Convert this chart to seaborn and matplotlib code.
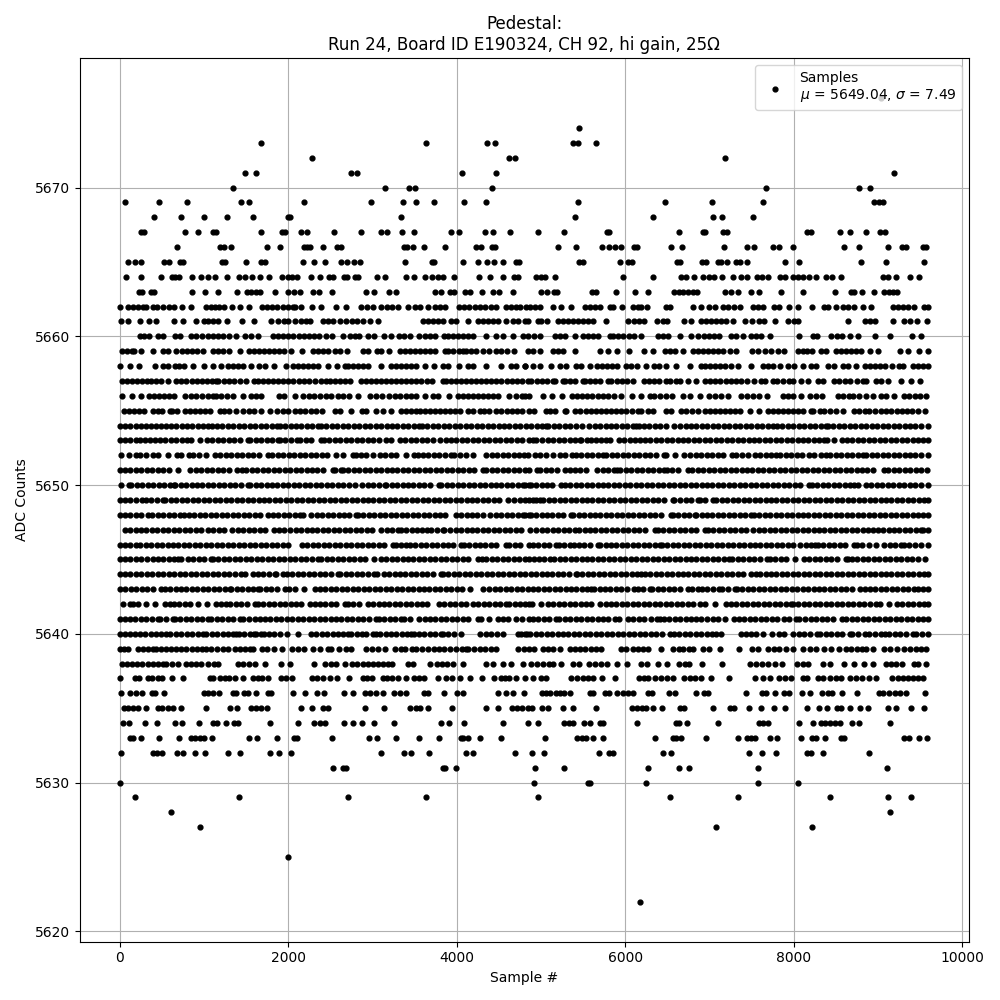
import pandas as pd
import matplotlib
matplotlib.use('Agg')
import matplotlib.pyplot as plt
import seaborn as sns

# sample numbers, one list per ADC level
s5622 = [6173]
s5625 = [1994]
s5627 = [949, 7075, 8214]
s5628 = [605, 9140]
s5629 = [178, 1412, 2706, 3632, 4963, 6529, 7336, 8428, 9116, 9389]
s5630 = [0, 4915, 5556, 5580, 6244, 7574, 8048]
s5631 = [2528, 2647, 2682, 3841, 3865, 3988, 4927, 5271, 6268, 6636, 6755, 7574, 9105]
s5632 = [12, 392, 439, 498, 676, 748, 890, 1009, 1278, 1424, 1780, 1887, 2029, 3098, 3371, 3454, 3667, 4106, 4190, 4688,
         4891, 5034, 5687, 5805, 5853, 6446, 6541, 7467, 7621, 7787, 8155, 8203, 8345, 8891]
s5633 = [119, 154, 249, 463, 700, 843, 890, 949, 997, 1092, 1531, 1626, 1863, 2065, 2101, 2516, 2955, 3050, 3276, 3545, 3786,
         4047, 4071, 4130, 4272, 4522, 5046, 5425, 5485, 5532, 5615, 5734, 6351, 6565, 6600, 6660, 6956, 7336, 7443, 7490, 7538,
         7716, 7799, 8084, 8214, 8262, 8369, 8559, 8594, 9306, 9366, 9484, 9579]
s5634 = [36, 107, 297, 435, 653, 736, 938, 1104, 1151, 1258, 1353, 1400, 1780, 2113, 2302, 2374, 2433, 2658, 2765, 2872, 3014,
         3252, 3810, 3905, 4083, 4545, 4844, 4963, 5271, 5330, 5378, 5508, 5580, 5698, 5734, 6138, 6600, 6636, 6731, 7099,
         7585, 7633, 7692, 8060, 8226, 8321, 8369, 8428, 8487, 8547, 8689, 8772, 9140]
s5635 = [47, 95, 154, 214, 309, 451, 498, 570, 629, 724, 1021, 1305, 1389, 1555, 1614, 1673, 1745, 2148, 2279, 2409, 2469, 2908,
         3133, 3442, 3513, 3561, 3655, 3940, 4344, 4486, 4652, 4712, 4771, 4844, 4891, 5010, 5081, 5259, 5378, 5651, 6078, 6138,
         6197, 6244, 6327, 6434, 6648, 6695, 7040, 7241, 7289, 7467, 7609, 7763, 7894, 8155, 8298, 8392, 8511, 8559, 8665, 8784,
         8879, 9116, 9211, 9389, 9544]
s5636 = [12, 119, 190, 261, 380, 415, 522, 997, 1044, 1104, 1175, 1341, 1377, 1472, 1519, 1614, 1756, 1792, 2053, 2196, 2338, 2421,
         2658, 2765, 2908, 2967, 3038, 3121, 3252, 3323, 3394, 3608, 3655, 3845, 4000, 4071, 4486, 4581, 4664, 4796, 5010, 5058,
         5105, 5176, 5224, 5271, 5342, 5580, 5615, 5758, 5805, 5900, 5971, 6031, 6090, 6268, 6316, 6517, 6588, 6838, 6933, 6980,
         7431, 7621, 7668, 7775, 7882, 7941, 8096, 8191, 8333, 8404, 8452, 8570, 8756, 9010, 9057, 9128, 9199, 9259, 9330, 9556]
s5637 = [0, 178, 225, 332, 380, 451, 498, 617, 744, 1068, 1104, 1187, 1246, 1294, 1365, 1460, 1578, 1638, 1685, 1756, 1911, 1970,
         2041, 2279, 2338, 2409, 2492, 2575, 2718, 2884, 2931, 2991, 3121, 3169, 3228, 3299, 3394, 3489, 3549, 3608, 3774, 3869,
         3940, 4035, 4154, 4296, 4439, 4522, 4569, 4617, 4700, 4808, 4903, 4998, 5058, 5354, 5425, 5497, 5556, 5615, 5722, 5876,
         6161, 6221, 6268, 6351, 6422, 6493, 6565, 6695, 6767, 6826, 6897, 7016, 7229, 7538, 7633, 7716, 7823, 7894, 7965, 8108,
         8155, 8286, 8345, 8428, 8499, 8559, 8665, 8736, 8808, 8891, 8974, 9164, 9235, 9294, 9354, 9413, 9473, 9532]
s5638 = [24, 85, 145, 205, 265, 330, 390, 450, 510, 550, 620, 690, 780, 840, 900, 960, 1045, 1115, 1163, 1400, 1460, 1530, 1600, 1717,
         1907, 2014, 2302, 2437, 2500, 2560, 2666, 2757, 2820, 2880, 2940, 3000, 3060, 3120, 3180, 3232, 3418, 3485, 3683, 3760, 3820,
         3880, 3950, 4071, 4348, 4427, 4545, 4644, 4783, 4879, 4951, 5022, 5093, 5141, 5235, 5378, 5449, 5568, 5639, 5710, 5781, 5900,
         6019, 6185, 6256, 6387, 6493, 6636, 6707, 6755, 6909, 7146, 7479, 7550, 7621, 7692, 7775, 7858, 8036, 8108, 8167, 8345, 8428,
         8594, 8713, 8832, 8938, 9093, 9152, 9211, 9282, 9425, 9473, 9567]
s5639 = [0, 50, 100, 214, 270, 332, 390, 430, 490, 550, 610, 670, 730, 787, 850, 910, 970, 1025, 1085, 1150, 1220, 1278, 1360, 1420, 1480,
         1540, 1578, 1685, 1750, 1830, 1925, 2041, 2112, 2180, 2290, 2370, 2470, 2508, 2600, 2686, 2745, 2923, 2990, 3060, 3141, 3260, 3340,
         3386, 3465, 3520, 3590, 3660, 3730, 3790, 3853, 3920, 3990, 4060, 4110, 4130, 4200, 4270, 4340, 4400, 4466, 4723, 4800, 4862, 4920,
         5022, 5081, 5141, 5220, 5338, 5400, 5460, 5520, 5590, 5650, 5710, 5948, 6010, 6090, 6150, 6210, 6270, 6422, 6565, 6640, 6683, 6760,
         6800, 6921, 6990, 7122, 7348, 7500, 7570, 7692, 7770, 7823, 7910, 7989, 8108, 8190, 8262, 8365, 8440, 8543, 8622, 8680, 8745, 8810,
         8860, 8938, 9077, 9140, 9230, 9314, 9380, 9450, 9510, 9570]
s5640 = [0, 60, 115, 174, 235, 300, 365, 430, 490, 550, 589, 669, 730, 795, 860, 925, 985, 1025, 1090, 1155, 1220, 1285, 1345, 1381, 1412,
         1475, 1540, 1586, 1618, 1670, 1705, 1768, 1830, 1895, 1982, 2112, 2263, 2330, 2395, 2460, 2525, 2590, 2650, 2706, 2745, 2810, 2875,
         2916, 3003, 3045, 3082, 3153, 3215, 3280, 3345, 3410, 3460, 3497, 3549, 3615, 3680, 3745, 3813, 3833, 3900, 3965, 4051, 4280, 4345,
         4410, 4475, 4545, 4723, 4763, 4830, 4804, 4870, 4935, 5000, 5065, 5130, 5195, 5260, 5325, 5390, 5455, 5520, 5585, 5650, 5715, 5780,
         5845, 5910, 5975, 6040, 6105, 6170, 6235, 6300, 6365, 6430, 6525, 6573, 6640, 6705, 6770, 6835, 6900, 6965, 7030, 7071, 7134, 7376,
         7435, 7494, 7546, 7633, 7740, 7823, 7890, 7989, 8060, 8125, 8190, 8278, 8313, 8380, 8445, 8510, 8575, 8662, 8693, 8760, 8851, 8899,
         8965, 9030, 9089, 9136, 9200, 9265, 9330, 9413, 9453, 9520, 9590]
s5641 = [0, 55, 115, 180, 245, 310, 375, 451, 479, 545, 629, 649, 715, 780, 845, 910, 975, 1044, 1084, 1150, 1215, 1280, 1345, 1420, 1460,
         1530, 1598, 1657, 1720, 1785, 1850, 1915, 1980, 2045, 2110, 2175, 2240, 2305, 2370, 2435, 2500, 2565, 2630, 2695, 2760, 2825, 2890,
         2955, 3042, 3074, 3140, 3205, 3270, 3335, 3378, 3438, 3556, 3616, 3680, 3745, 3810, 3875, 3940, 4005, 4070, 4135, 4249, 4288, 4387,
         4486, 4545, 4605, 4704, 4770, 4862, 4900, 4965, 5030, 5095, 5180, 5212, 5280, 5345, 5410, 5475, 5540, 5605, 5670, 5735, 5800, 5872,
         5924, 6031, 6095, 6160, 6225, 6308, 6375, 6406, 6454, 6520, 6585, 6650, 6715, 6782, 6842, 6901, 6970, 7040, 7105, 7178, 7285, 7350,
         7415, 7480, 7545, 7610, 7675, 7740, 7805, 7890, 7941, 8029, 8068, 8135, 8200, 8265, 8330, 8395, 8460, 8574, 8622, 8690, 8755, 8820,
         8885, 8950, 9015, 9080, 9145, 9210, 9275, 9340, 9405, 9470, 9535, 9590]
s5642 = [36, 115, 154, 215, 313, 415, 530, 589, 641, 705, 770, 835, 926, 1033, 1143, 1205, 1262, 1309, 1375, 1440, 1505, 1598, 1638, 1700,
         1765, 1830, 1895, 1960, 2025, 2090, 2155, 2251, 2310, 2375, 2440, 2505, 2570, 2666, 2706, 2770, 2844, 2943, 3005, 3070, 3135, 3200,
         3265, 3330, 3395, 3460, 3525, 3590, 3647, 3786, 3850, 3915, 3980, 4045, 4110, 4190, 4255, 4320, 4385, 4450, 4515, 4585, 4624, 4690,
         4755, 4804, 4862, 4891, 5002, 5081, 5145, 5210, 5275, 5340, 5405, 5470, 5535, 5596, 5702, 5765, 5830, 5895, 5960, 6025, 6090, 6155,
         6220, 6285, 6350, 6415, 6480, 6545, 6610, 6675, 6740, 6805, 6881, 6941, 7059, 7190, 7255, 7320, 7385, 7450, 7515, 7580, 7645, 7710,
         7775, 7840, 7905, 7969, 7989, 8055, 8120, 8185, 8250, 8315, 8380, 8445, 8510, 8575, 8640, 8705, 8770, 8835, 8900, 8978, 9025, 9136,
         9223, 9290, 9355, 9420, 9485, 9550, 9590]
s5643 = [4, 65, 130, 195, 260, 325, 390, 490, 530, 595, 660, 725, 790, 855, 920, 985, 1050, 1115, 1180, 1245, 1302, 1321, 1385, 1450, 1515,
         1580, 1638, 1665, 1730, 1795, 1860, 1954, 2005, 2081, 2191, 2310, 2375, 2440, 2505, 2570, 2635, 2700, 2765, 2830, 2895, 2960, 3025,
         3090, 3155, 3220, 3285, 3350, 3415, 3480, 3545, 3610, 3675, 3740, 3805, 3870, 3935, 4000, 4065, 4158, 4308, 4380, 4447, 4514, 4580,
         4645, 4710, 4775, 4840, 4900, 4965, 5030, 5095, 5160, 5225, 5290, 5355, 5420, 5485, 5550, 5596, 5623, 5694, 5754, 5820, 5885, 5950,
         6015, 6098, 6149, 6215, 6288, 6319, 6385, 6450, 6515, 6580, 6645, 6743, 6794, 6861, 6913, 6968, 7040, 7111, 7150, 7215, 7297, 7324,
         7390, 7455, 7520, 7585, 7650, 7715, 7780, 7845, 7910, 7975, 8040, 8105, 8170, 8235, 8300, 8365, 8430, 8495, 8560, 8625, 8690, 8788,
         8840, 8905, 8970, 9035, 9100, 9165, 9230, 9295, 9360, 9433, 9473, 9535, 9590]
s5644 = [0, 62, 125, 190, 255, 320, 385, 450, 515, 580, 645, 710, 775, 840, 905, 970, 1035, 1100, 1165, 1230, 1295, 1360, 1440, 1480, 1578,
         1638, 1700, 1765, 1836, 1855, 1934, 1982, 2045, 2110, 2175, 2240, 2305, 2370, 2435, 2500, 2587, 2615, 2680, 2745, 2810, 2875, 2940,
         3022, 3054, 3133, 3195, 3260, 3325, 3390, 3455, 3520, 3585, 3650, 3715, 3813, 3833, 3900, 3965, 4030, 4095, 4160, 4225, 4290, 4355,
         4420, 4485, 4550, 4615, 4680, 4745, 4810, 4875, 4940, 5005, 5070, 5135, 5200, 5265, 5330, 5410, 5425, 5490, 5555, 5620, 5685, 5750,
         5815, 5880, 5945, 6010, 6075, 6140, 6189, 6228, 6295, 6360, 6425, 6490, 6555, 6620, 6685, 6750, 6815, 6880, 6945, 7010, 7075, 7140,
         7205, 7270, 7335, 7400, 7494, 7554, 7601, 7665, 7730, 7795, 7860, 7925, 7990, 8055, 8120, 8185, 8250, 8315, 8380, 8445, 8510, 8575,
         8640, 8705, 8770, 8835, 8900, 8965, 9030, 9095, 9160, 9225, 9290, 9355, 9420, 9485, 9550, 9590]
s5645 = [0, 62, 125, 190, 255, 320, 392, 451, 515, 580, 645, 688, 728, 807, 870, 935, 1000, 1084, 1104, 1170, 1235, 1300, 1365, 1430, 1495,
         1560, 1625, 1690, 1755, 1820, 1885, 1950, 2015, 2080, 2145, 2210, 2275, 2350, 2390, 2455, 2520, 2585, 2650, 2715, 2780, 2845, 2910,
         3022, 3094, 3160, 3225, 3290, 3355, 3420, 3485, 3550, 3615, 3680, 3745, 3810, 3875, 3940, 4005, 4070, 4135, 4249, 4296, 4348, 4415,
         4480, 4545, 4610, 4675, 4740, 4805, 4862, 4915, 4980, 5040, 5101, 5152, 5220, 5285, 5350, 5415, 5480, 5545, 5610, 5675, 5740, 5805,
         5870, 5935, 6000, 6065, 6130, 6195, 6260, 6325, 6390, 6455, 6520, 6585, 6650, 6715, 6780, 6845, 6910, 6975, 7040, 7105, 7170, 7237,
         7269, 7335, 7400, 7465, 7530, 7595, 7680, 7712, 7780, 7845, 7910, 8009, 8120, 8185, 8250, 8315, 8380, 8445, 8510, 8622, 8642, 8689,
         8755, 8820, 8885, 8950, 9015, 9080, 9145, 9210, 9275, 9340, 9405, 9470, 9563]
s5646 = [0, 62, 125, 194, 241, 305, 370, 435, 500, 565, 630, 695, 760, 825, 890, 955, 1020, 1085, 1150, 1215, 1280, 1345, 1410, 1475, 1540,
         1605, 1670, 1735, 1800, 1865, 1930, 1994, 2160, 2225, 2290, 2355, 2420, 2485, 2550, 2615, 2680, 2745, 2810, 2875, 2940, 3005, 3070,
         3135, 3240, 3272, 3335, 3398, 3438, 3505, 3570, 3635, 3700, 3765, 3830, 3895, 3960, 4051, 4079, 4145, 4210, 4275, 4340, 4405, 4470,
         4585, 4624, 4690, 4755, 4862, 4900, 4965, 5030, 5095, 5180, 5212, 5275, 5338, 5386, 5450, 5515, 5580, 5675, 5702, 5765, 5830, 5895,
         5960, 6025, 6090, 6155, 6220, 6285, 6350, 6406, 6434, 6500, 6565, 6630, 6695, 6760, 6825, 6890, 6955, 7020, 7085, 7150, 7215, 7280,
         7345, 7410, 7475, 7540, 7605, 7670, 7735, 7800, 7865, 7930, 7989, 8076, 8140, 8200, 8258, 8286, 8350, 8415, 8480, 8545, 8610, 8721,
         8748, 8815, 8891, 8978, 9077, 9140, 9205, 9270, 9314, 9366, 9435, 9512, 9590]
s5647 = [55, 120, 185, 250, 315, 380, 445, 510, 575, 640, 705, 770, 835, 900, 965, 1044, 1110, 1175, 1230, 1333, 1400, 1465, 1530, 1595, 1660,
         1725, 1824, 1887, 1950, 2021, 2085, 2150, 2215, 2280, 2345, 2410, 2475, 2540, 2605, 2670, 2735, 2800, 2865, 2930, 2995, 3102, 3169,
         3235, 3300, 3339, 3398, 3465, 3530, 3588, 3643, 3695, 3760, 3833, 3853, 3920, 3985, 4050, 4115, 4180, 4245, 4310, 4375, 4440, 4505,
         4570, 4635, 4700, 4765, 4872, 4943, 5010, 5075, 5140, 5205, 5270, 5335, 5398, 5449, 5516, 5580, 5645, 5710, 5775, 5840, 5905, 5970,
         6035, 6100, 6165, 6230, 6347, 6387, 6450, 6515, 6580, 6645, 6710, 6775, 6840, 6941, 6980, 7045, 7110, 7175, 7240, 7305, 7370, 7435,
         7514, 7585, 7650, 7715, 7780, 7845, 7910, 7975, 8040, 8105, 8170, 8235, 8300, 8365, 8430, 8495, 8560, 8625, 8690, 8755, 8820, 8885,
         8946, 8998, 9060, 9125, 9190, 9255, 9320, 9385, 9450, 9512, 9540, 9590]
s5648 = [0, 62, 125, 190, 255, 332, 384, 450, 515, 580, 645, 708, 756, 820, 885, 950, 1015, 1080, 1145, 1210, 1275, 1340, 1405, 1470, 1535,
         1600, 1665, 1756, 1816, 1880, 1945, 2010, 2075, 2132, 2172, 2271, 2335, 2400, 2465, 2530, 2595, 2660, 2725, 2805, 2825, 2890, 2955,
         3020, 3085, 3150, 3215, 3280, 3345, 3410, 3475, 3540, 3605, 3670, 3735, 3800, 3865, 3984, 4051, 4115, 4180, 4245, 4316, 4395, 4466,
         4530, 4595, 4660, 4725, 4790, 4862, 4810, 4875, 4940, 5005, 5070, 5135, 5200, 5265, 5358, 5378, 5445, 5510, 5575, 5640, 5705, 5770,
         5835, 5900, 5965, 6030, 6095, 6160, 6225, 6290, 6355, 6420, 6545, 6565, 6630, 6695, 6760, 6822, 6842, 6905, 6970, 7035, 7100, 7165,
         7230, 7295, 7360, 7425, 7494, 7526, 7590, 7655, 7720, 7785, 7850, 7915, 7980, 8045, 8110, 8175, 8240, 8305, 8370, 8435, 8500, 8565,
         8630, 8695, 8760, 8825, 8890, 8955, 9020, 9085, 9150, 9215, 9280, 9345, 9410, 9475, 9540, 9590]
s5649 = [0, 62, 125, 190, 265, 305, 370, 435, 510, 540, 605, 670, 735, 800, 865, 930, 995, 1060, 1125, 1190, 1255, 1320, 1385, 1450, 1515,
         1580, 1645, 1710, 1775, 1840, 1905, 1970, 2035, 2100, 2165, 2230, 2295, 2360, 2425, 2490, 2555, 2620, 2685, 2750, 2815, 2880, 2945,
         3010, 3075, 3140, 3205, 3270, 3335, 3400, 3465, 3530, 3595, 3660, 3725, 3790, 3855, 3920, 3985, 4050, 4115, 4180, 4245, 4310, 4375,
         4440, 4505, 4605, 4684, 4750, 4815, 4862, 4900, 4943, 4990, 5022, 5090, 5155, 5220, 5285, 5350, 5415, 5480, 5545, 5610, 5675, 5740,
         5805, 5870, 5935, 6000, 6065, 6130, 6195, 6260, 6325, 6390, 6455, 6565, 6584, 6650, 6715, 6780, 6861, 6881, 6945, 7040, 7079, 7145,
         7210, 7275, 7340, 7405, 7470, 7535, 7600, 7665, 7730, 7795, 7860, 7925, 7990, 8055, 8120, 8185, 8250, 8315, 8380, 8445, 8510, 8575,
         8640, 8705, 8770, 8835, 8900, 8965, 9030, 9095, 9160, 9225, 9290, 9355, 9420, 9485, 9550, 9590]
s5650 = [16, 107, 134, 200, 265, 330, 395, 460, 525, 590, 637, 653, 720, 785, 850, 915, 980, 1045, 1110, 1175, 1240, 1305, 1370, 1435, 1519,
         1547, 1610, 1675, 1740, 1805, 1870, 1935, 2000, 2065, 2130, 2195, 2260, 2325, 2390, 2455, 2520, 2585, 2650, 2718, 2785, 2876, 2940,
         3005, 3070, 3141, 3161, 3225, 3290, 3355, 3420, 3485, 3550, 3615, 3680, 3786, 3813, 3880, 3945, 4010, 4075, 4140, 4205, 4270, 4335,
         4400, 4465, 4530, 4595, 4660, 4725, 4790, 4862, 4810, 4875, 4940, 5005, 5070, 5135, 5240, 5279, 5345, 5410, 5475, 5540, 5605, 5670,
         5735, 5800, 5865, 5930, 5995, 6060, 6125, 6190, 6255, 6320, 6385, 6450, 6515, 6580, 6645, 6710, 6775, 6840, 6905, 6970, 7035, 7100,
         7165, 7230, 7295, 7360, 7425, 7490, 7555, 7620, 7685, 7750, 7815, 7880, 7945, 8010, 8075, 8179, 8218, 8278, 8345, 8410, 8475, 8540,
         8605, 8670, 8721, 8760, 8859, 8918, 8985, 9050, 9115, 9180, 9245, 9310, 9375, 9440, 9505, 9590]
s5651 = [0, 62, 125, 190, 255, 320, 385, 450, 515, 580, 688, 835, 898, 965, 1030, 1095, 1160, 1225, 1290, 1389, 1444, 1499, 1565, 1630,
         1695, 1760, 1825, 1890, 1955, 2020, 2085, 2150, 2215, 2280, 2345, 2410, 2528, 2548, 2627, 2646, 2710, 2775, 2840, 2905, 2970, 3035,
         3100, 3165, 3230, 3295, 3360, 3425, 3490, 3555, 3620, 3685, 3750, 3815, 3880, 3945, 4010, 4075, 4140, 4205, 4308, 4348, 4415, 4480,
         4545, 4610, 4675, 4740, 4805, 4862, 4951, 4990, 5055, 5120, 5185, 5279, 5338, 5400, 5465, 5536, 5663, 5730, 5795, 5860, 5904, 5940,
         6005, 6070, 6135, 6200, 6265, 6330, 6395, 6458, 6497, 6560, 6625, 6743, 6794, 6860, 6925, 6990, 7055, 7120, 7185, 7250, 7315, 7380,
         7445, 7510, 7575, 7640, 7705, 7770, 7835, 7900, 7965, 8030, 8095, 8160, 8225, 8290, 8355, 8420, 8485, 8550, 8615, 8680, 8745, 8810,
         8875, 8940, 9077, 9124, 9190, 9255, 9320, 9385, 9450, 9515, 9578]
s5652 = [16, 107, 194, 241, 310, 392, 451, 570, 676, 728, 819, 866, 935, 1025, 1124, 1190, 1255, 1320, 1385, 1450, 1515, 1580, 1645, 1756,
         1808, 1875, 1940, 2005, 2070, 2135, 2200, 2265, 2330, 2395, 2460, 2560, 2654, 2765, 2805, 2864, 2916, 3003, 3082, 3150, 3215, 3280,
         3398, 3497, 3537, 3596, 3660, 3725, 3790, 3860, 3932, 3972, 4040, 4105, 4190, 4348, 4415, 4480, 4545, 4610, 4675, 4740, 4842, 4800,
         4923, 4990, 5061, 5141, 5220, 5279, 5370, 5410, 5475, 5540, 5605, 5670, 5734, 5773, 5840, 5905, 5970, 6035, 6100, 6165, 6230, 6295,
         6360, 6454, 6486, 6585, 6695, 6770, 6835, 6900, 6965, 7030, 7095, 7160, 7269, 7316, 7385, 7455, 7534, 7600, 7665, 7730, 7791, 7839,
         7905, 7970, 8035, 8100, 8179, 8246, 8320, 8385, 8432, 8500, 8565, 8630, 8695, 8760, 8820, 8859, 8925, 8990, 9055, 9120, 9185, 9250,
         9315, 9380, 9445, 9510, 9590]
s5653 = [0, 62, 125, 190, 233, 293, 360, 411, 475, 540, 605, 670, 735, 800, 846, 953, 1032, 1095, 1160, 1225, 1290, 1355, 1420, 1519, 1547,
         1610, 1675, 1740, 1805, 1875, 1895, 1960, 2025, 2100, 2140, 2205, 2270, 2389, 2421, 2485, 2550, 2615, 2680, 2745, 2810, 2875, 2940,
         3005, 3070, 3160, 3220, 3327, 3390, 3455, 3520, 3585, 3650, 3715, 3802, 3873, 3932, 3995, 4060, 4125, 4190, 4255, 4320, 4385, 4450,
         4515, 4580, 4645, 4710, 4775, 4862, 4903, 4943, 5014, 5080, 5145, 5210, 5275, 5340, 5405, 5457, 5477, 5540, 5596, 5647, 5710, 5775,
         5821, 5920, 5985, 6050, 6115, 6180, 6228, 6296, 6360, 6425, 6490, 6555, 6620, 6685, 6750, 6815, 6880, 6945, 7010, 7075, 7140, 7205,
         7270, 7335, 7400, 7465, 7530, 7593, 7664, 7720, 7785, 7850, 7915, 7980, 8045, 8110, 8175, 8240, 8305, 8365, 8392, 8483, 8567, 8630,
         8695, 8760, 8825, 8890, 8955, 9020, 9085, 9150, 9215, 9280, 9345, 9410, 9475, 9540, 9590]
s5654 = [0, 55, 120, 185, 250, 310, 370, 430, 490, 550, 610, 670, 735, 800, 860, 925, 990, 1050, 1090, 1150, 1215, 1280, 1345, 1410, 1475,
         1540, 1605, 1670, 1735, 1800, 1860, 1900, 1965, 2030, 2095, 2150, 2215, 2280, 2350, 2390, 2450, 2515, 2580, 2645, 2710, 2775, 2840,
         2905, 2970, 3035, 3100, 3165, 3230, 3295, 3360, 3425, 3490, 3555, 3590, 3650, 3715, 3780, 3845, 3910, 3975, 4040, 4105, 4170, 4235,
         4300, 4365, 4430, 4495, 4560, 4625, 4690, 4755, 4820, 4885, 4950, 5015, 5055, 5085, 5150, 5215, 5280, 5345, 5410, 5490, 5570, 5635,
         5700, 5765, 5830, 5895, 5960, 6025, 6090, 6130, 6157, 6220, 6285, 6350, 6415, 6480, 6573, 6652, 6715, 6780, 6845, 6910, 6975, 7040,
         7105, 7170, 7235, 7300, 7365, 7430, 7495, 7560, 7625, 7690, 7752, 7799, 7865, 7930, 7995, 8060, 8125, 8190, 8255, 8320, 8377, 8404,
         8470, 8535, 8600, 8665, 8730, 8795, 8860, 8925, 8990, 9055, 9120, 9185, 9250, 9315, 9380, 9445, 9510, 9590]
s5655 = [51, 110, 170, 230, 290, 392, 451, 502, 589, 621, 680, 767, 827, 890, 950, 1010, 1075, 1183, 1230, 1290, 1381, 1460, 1530, 1590, 1680,
         1776, 1863, 1934, 2000, 2073, 2132, 2200, 2265, 2330, 2401, 2548, 2610, 2745, 2876, 2923, 3042, 3121, 3216, 3339, 3400, 3460, 3516,
         3562, 3620, 3680, 3740, 3800, 3860, 3920, 3980, 4040, 4130, 4190, 4272, 4320, 4387, 4466, 4530, 4590, 4650, 4710, 4770, 4862, 4920,
         5061, 5101, 5160, 5279, 5299, 5398, 5465, 5530, 5590, 5650, 5710, 5770, 5830, 5890, 5950, 6010, 6075, 6149, 6189, 6268, 6330, 6486,
         6545, 6664, 6723, 6790, 6860, 6941, 7000, 7060, 7120, 7180, 7240, 7300, 7360, 7475, 7585, 7692, 7750, 7810, 7870, 7930, 7990, 8050,
         8115, 8207, 8226, 8313, 8365, 8430, 8503, 8582, 8721, 8780, 8847, 8899, 8965, 9037, 9097, 9160, 9220, 9280, 9340, 9400, 9473, 9559]
s5656 = [24, 146, 245, 340, 400, 460, 520, 580, 640, 767, 839, 900, 970, 1044, 1104, 1143, 1203, 1270, 1340, 1460, 1559, 1620, 1677, 1883, 1950,
         2073, 2172, 2240, 2300, 2380, 2449, 2508, 2587, 2650, 2720, 2825, 2971, 3042, 3113, 3200, 3260, 3320, 3400, 3460, 3517, 3620, 3714, 3774,
         3901, 4008, 4071, 4130, 4190, 4250, 4310, 4370, 4430, 4490, 4625, 4704, 4770, 4862, 4810, 5022, 5125, 5247, 5370, 5430, 5490, 5550,
         5610, 5670, 5730, 5790, 5870, 5951, 6078, 6189, 6288, 6335, 6406, 6486, 6550, 6683, 6770, 6885, 6988, 7059, 7140, 7218, 7376, 7440,
         7514, 7593, 7680, 7870, 7930, 7989, 8088, 8195, 8266, 8333, 8523, 8590, 8650, 8701, 8780, 8860, 8938, 9037, 9100, 9196, 9314, 9373,
         9441, 9500, 9571]
s5657 = [24, 85, 145, 205, 265, 325, 372, 423, 490, 570, 669, 730, 790, 850, 910, 970, 1030, 1090, 1143, 1163, 1230, 1290, 1350, 1420, 1499, 1586,
         1638, 1700, 1760, 1820, 1880, 1940, 2000, 2060, 2120, 2180, 2250, 2320, 2385, 2449, 2488, 2550, 2610, 2670, 2730, 2864, 2923, 2980, 3040,
         3100, 3160, 3220, 3280, 3340, 3400, 3460, 3520, 3580, 3640, 3700, 3833, 3873, 3930, 3990, 4050, 4110, 4170, 4230, 4290, 4350, 4410,
         4470, 4530, 4590, 4650, 4710, 4770, 4842, 4884, 4950, 5010, 5070, 5141, 5160, 5260, 5280, 5340, 5400, 5497, 5516, 5580, 5640, 5700,
         5793, 5833, 5900, 5960, 6025, 6090, 6217, 6280, 6340, 6400, 6486, 6525, 6604, 6644, 6743, 6842, 6952, 7010, 7070, 7130, 7190, 7250,
         7310, 7370, 7440, 7525, 7613, 7653, 7752, 7799, 7870, 7949, 7989, 8090, 8167, 8286, 8345, 8483, 8543, 8610, 8670, 8745, 8820, 8860, 8978,
         9037, 9116, 9275, 9393, 9500]
s5658 = [0, 119, 225, 411, 510, 570, 649, 700, 760, 866, 993, 1100, 1203, 1282, 1340, 1400, 1460, 1559, 1650, 1717, 1824, 1966, 2053, 2110, 2170,
         2230, 2290, 2350, 2469, 2575, 2666, 2706, 2770, 2830, 2890, 2950, 3102, 3220, 3280, 3340, 3400, 3460, 3520, 3620, 3734, 3833, 3900,
         4031, 4130, 4190, 4348, 4526, 4644, 4704, 4811, 4804, 4903, 4990, 5121, 5220, 5299, 5418, 5477, 5576, 5663, 5720, 5780, 5840, 5900,
         6010, 6070, 6138, 6248, 6339, 6400, 6486, 6596, 6770, 6901, 6941, 7000, 7060, 7120, 7180, 7260, 7336, 7494, 7633, 7692, 7752, 7839,
         7930, 8000, 8108, 8207, 8270, 8404, 8483, 8582, 8640, 8740, 8840, 8900, 8960, 9020, 9080, 9170, 9255, 9294, 9413, 9473, 9530, 9595]
s5659 = [24, 85, 145, 170, 253, 392, 510, 570, 669, 740, 800, 860, 920, 985, 1104, 1163, 1222, 1300, 1420, 1527, 1590, 1650, 1710, 1770, 1830, 1890,
         1950, 2033, 2164, 2290, 2350, 2410, 2469, 2550, 2610, 2700, 2884, 2950, 3050, 3100, 3190, 3320, 3380, 3440, 3500, 3560, 3620, 3680,
         3740, 3857, 3897, 3960, 4030, 4071, 4110, 4170, 4230, 4308, 4380, 4466, 4530, 4600, 4680, 4842, 4900, 4982, 5141, 5200, 5260, 5398,
         5694, 5793, 5900, 6043, 6217, 6327, 6474, 6530, 6590, 6683, 6802, 6860, 6920, 6980, 7040, 7100, 7160, 7240, 7316, 7506, 7574, 7653,
         7732, 7810, 7890, 8048, 8108, 8155, 8215, 8325, 8385, 8503, 8560, 8620, 8680, 8740, 8800, 8900, 8998, 9267, 9354, 9484, 9595]
s5660 = [233, 280, 340, 451, 510, 649, 708, 847, 906, 977, 1040, 1100, 1160, 1220, 1290, 1381, 1487, 1550, 1638, 1816, 1880, 1940, 2000, 2060, 2120,
         2180, 2240, 2300, 2360, 2449, 2516, 2647, 2726, 2785, 2840, 2943, 3022, 3140, 3220, 3319, 3378, 3440, 3556, 3616, 3680, 3740, 3853, 3893,
         3950, 4010, 4070, 4130, 4190, 4347, 4466, 4545, 4664, 4785, 4850, 4910, 4982, 5160, 5220, 5280, 5398, 5497, 5560, 5620, 5680, 5813,
         5853, 5912, 5970, 6040, 6100, 6189, 6387, 6450, 6510, 6644, 6782, 6861, 6930, 6990, 7050, 7110, 7257, 7309, 7395, 7487, 7554, 7613,
         7712, 8060, 8226, 8278, 8444, 8510, 8570, 8662, 8760, 8962, 9140, 9405, 9512]
s5661 = [12, 95, 237, 344, 427, 641, 748, 902, 993, 1050, 1110, 1170, 1270, 1448, 1590, 1796, 1875, 1942, 2000, 2073, 2152, 2211, 2255, 2409, 2470,
         2530, 2607, 2686, 2750, 2810, 2884, 2967, 3062, 3596, 3660, 3720, 3780, 3840, 3930, 3992, 4130, 4249, 4308, 4370, 4430, 4490, 4585,
         4664, 4723, 4804, 4844, 4963, 5002, 5069, 5200, 5260, 5320, 5380, 5440, 5500, 5556, 5615, 5766, 6031, 6100, 6161, 6217, 6375, 6446,
         6493, 6695, 6778, 6901, 6960, 7020, 7080, 7140, 7198, 7277, 7419, 7502, 7585, 7645, 7775, 7930, 8000, 8048, 8642, 8843, 8900, 8962,
         9176, 9306, 9377, 9460, 9579]
s5662 = [0, 95, 150, 210, 270, 313, 392, 439, 510, 581, 641, 736, 843, 1025, 1085, 1124, 1175, 1230, 1329, 1420, 1527, 1689, 1750, 1810, 1870, 1930,
         1990, 2053, 2073, 2152, 2283, 2390, 2563, 2682, 2860, 2931, 3002, 3098, 3169, 3230, 3300, 3418, 3501, 3560, 3655, 3738, 3794, 3857,
         4031, 4090, 4150, 4210, 4270, 4330, 4400, 4460, 4585, 4644, 4704, 4751, 4822, 4864, 4930, 4990, 5141, 5236, 5358, 5516, 5580, 5640,
         5694, 5813, 5853, 5963, 6090, 6150, 6189, 6256, 6486, 6525, 6802, 6900, 6996, 7060, 7158, 7218, 7290, 7356, 7514, 7570, 7633, 7771,
         7823, 7941, 8048, 8214, 8365, 8404, 8503, 8582, 8642, 8713, 8820, 8918, 9176, 9240, 9300, 9360, 9433, 9551, 9590]
s5663 = [225, 261, 368, 403, 854, 1009, 1163, 1389, 1507, 1555, 1614, 1662, 1840, 1994, 2065, 2136, 2291, 2362, 2516, 2920, 3014, 3192, 3276, 3738,
         3810, 3916, 3964, 4095, 4154, 4296, 4427, 4498, 4664, 4998, 5069, 5152, 5188, 5603, 5651, 5888, 6114, 6268, 6577, 6636, 6683, 6743, 6802,
         6850, 7182, 7253, 7336, 7490, 7585, 7847, 8108, 8487, 8677, 8713, 8808, 8950, 9069, 9128, 9176, 9223]
s5664 = [71, 249, 487, 617, 653, 700, 854, 961, 1044, 1127, 1270, 1412, 1483, 1567, 1662, 1768, 1923, 1994, 2041, 2101, 2267, 2370, 2480, 2528, 2658,
         2694, 2789, 2825, 3050, 3145, 3394, 3489, 3620, 3703, 3774, 3833, 3964, 4261, 4391, 4545, 4676, 4723, 4939, 4998, 5046, 5164, 5971, 6327,
         6660, 6719, 6814, 6921, 6992, 7051, 7146, 7277, 7372, 7443, 7562, 7621, 7692, 7835, 7894, 7989, 8048, 8108, 8179, 8262, 8381, 8452,
         8559, 9057, 9116, 9211, 9377, 9484]
s5665 = [95, 178, 249, 522, 581, 712, 748, 1211, 1246, 1495, 1677, 1721, 2172, 2302, 2433, 2623, 2694, 2777, 2848, 3382, 3703, 3727, 4071, 4249, 4356,
         4439, 4545, 4700, 4735, 5449, 5497, 5936, 6031, 6078, 6612, 6648, 6909, 6956, 7099, 7134, 7206, 7312, 7360, 7443, 7894, 8060, 8796, 9093, 9544]
s5666 = [676, 1183, 1234, 1317, 1745, 1895, 2184, 2219, 2255, 2409, 2575, 2623, 3371, 3406, 3477, 3608, 3857, 4229, 4284, 4415, 4450, 5200, 5414, 5722,
         5805, 5876, 5948, 6102, 6138, 6541, 6672, 7170, 7443, 7526, 7752, 7823, 7989, 8594, 8772, 9116, 9282, 9330, 9532, 9567]
s5667 = [249, 285, 771, 926, 1104, 1135, 1673, 1923, 1958, 2148, 2219, 2540, 2860, 3105, 3169, 3343, 3489, 3928, 4023, 4332, 4427, 4629, 4963, 5271, 5781,
         5805, 6636, 6921, 6945, 7158, 7206, 8155, 8203, 8547, 8665, 8855, 9021, 9081]
s5668 = [403, 724, 997, 1270, 1578, 1994, 2022, 3335, 5402, 6327, 7040, 7146, 7514]
s5669 = [59, 463, 795, 1436, 1531, 2184, 2979, 3359, 3513, 3727, 4083, 4344, 5437, 6470, 7028, 7633, 8950, 9010, 9057]
s5670 = [1341, 3145, 3430, 3501, 4415, 7668, 8772, 8903]
s5671 = [1487, 1614, 2742, 2813, 4059, 4462, 9188]
s5672 = [2279, 4617, 4688, 7182]
s5673 = [1673, 3632, 4356, 4450, 5378, 5437, 5651]
s5674 = [5449]
s5676 = [9030]

levels = [5622, 5625, 5627, 5628, 5629, 5630, 5631, 5632, 5633, 5634, 5635, 5636, 5637, 5638, 5639, 5640, 5641, 5642, 5643, 5644,
          5645, 5646, 5647, 5648, 5649, 5650, 5651, 5652, 5653, 5654, 5655, 5656, 5657, 5658, 5659, 5660, 5661, 5662, 5663, 5664,
          5665, 5666, 5667, 5668, 5669, 5670, 5671, 5672, 5673, 5674, 5676]
samples = [s5622, s5625, s5627, s5628, s5629, s5630, s5631, s5632, s5633, s5634, s5635, s5636, s5637, s5638, s5639, s5640, s5641, s5642,
           s5643, s5644, s5645, s5646, s5647, s5648, s5649, s5650, s5651, s5652, s5653, s5654, s5655, s5656, s5657, s5658, s5659, s5660,
           s5661, s5662, s5663, s5664, s5665, s5666, s5667, s5668, s5669, s5670, s5671, s5672, s5673, s5674, s5676]

rows = []
for level, xs in zip(levels, samples):
    for x in xs:
        rows.append((x, level))
df = pd.DataFrame(rows, columns=['sample', 'adc'])

fig, ax = plt.subplots(figsize=(10, 10))
sns.scatterplot(data=df, x='sample', y='adc', color='black', s=12, linewidth=1, edgecolor='black', zorder=2,
                label='Samples\n$\\mu$ = 5649.04, $\\sigma$ = 7.49', ax=ax)

ax.set_title('Pedestal:\nRun 24, Board ID E190324, CH 92, hi gain, 25Ω')
ax.set_xlabel('Sample #')
ax.set_ylabel('ADC Counts')
ax.set_xlim(-480, 10079)
ax.set_ylim(5619.3, 5678.7)
ax.grid(True)
ax.legend(loc='upper right')

fig.tight_layout()
fig.savefig('out.png', dpi=100)
